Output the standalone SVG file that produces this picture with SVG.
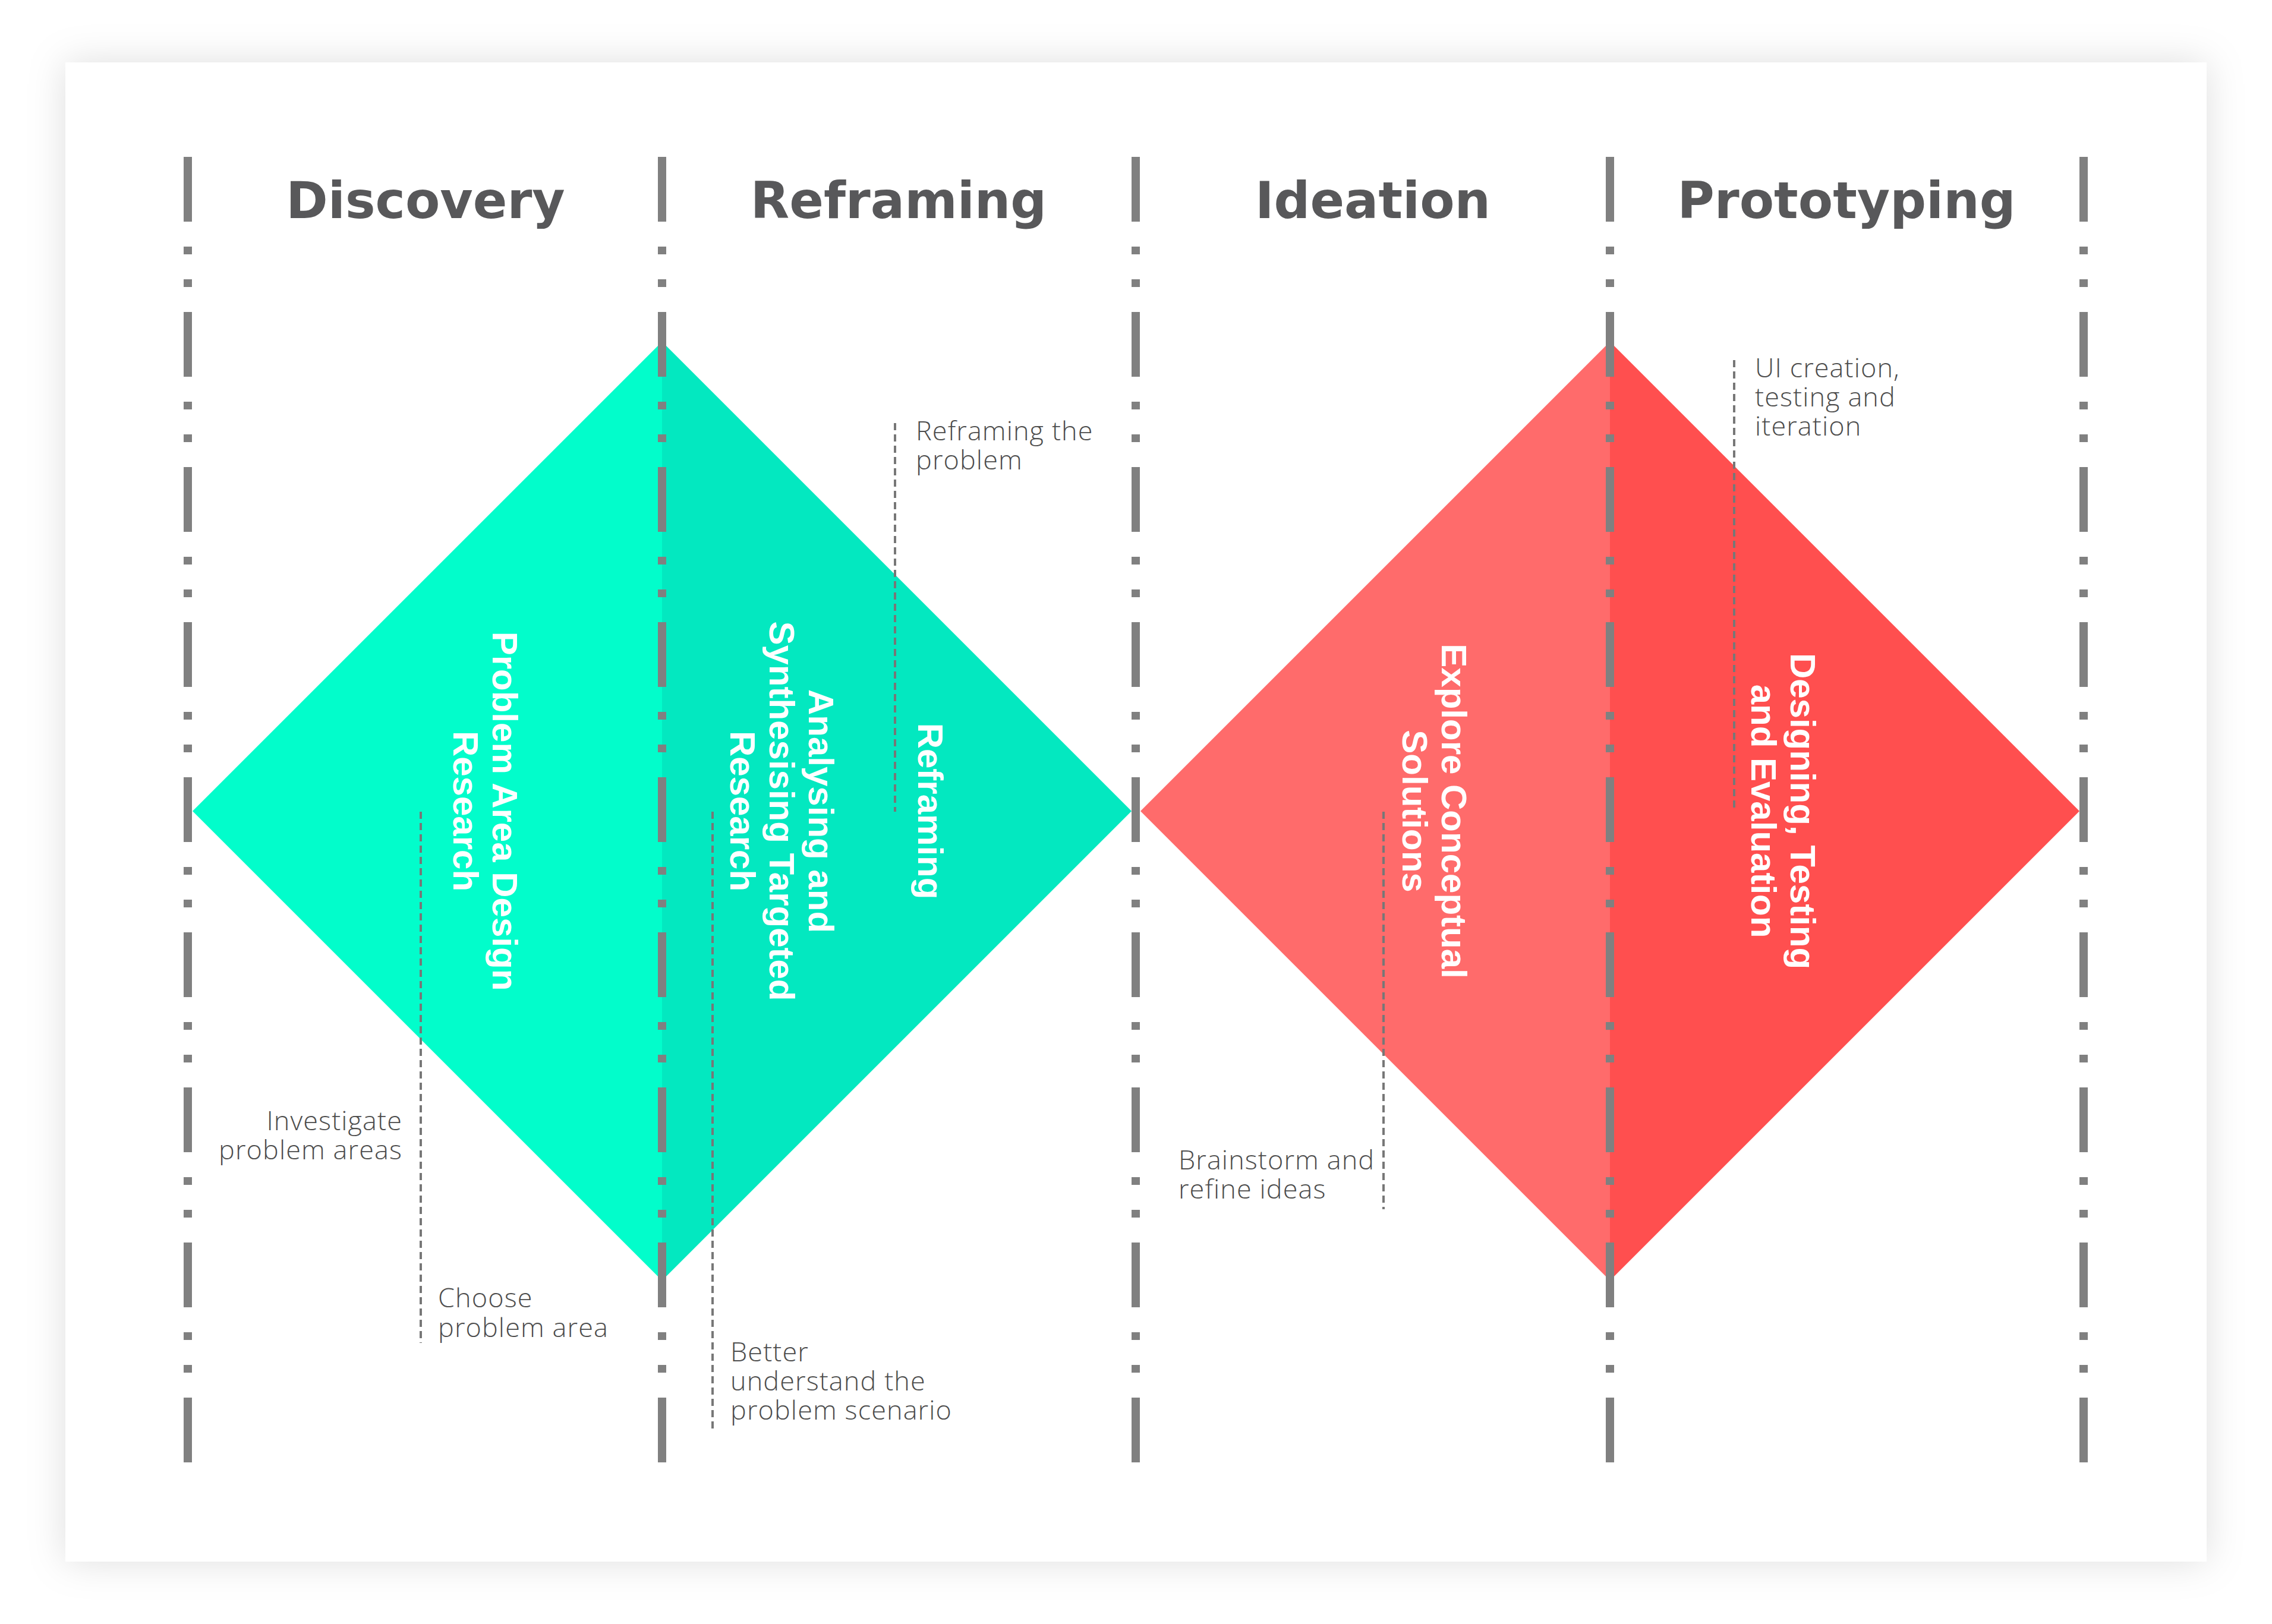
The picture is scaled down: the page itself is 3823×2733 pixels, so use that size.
<svg xmlns="http://www.w3.org/2000/svg" width="3823" height="2733" viewBox="0 0 3823 2733">
<defs>
<filter id="shadow" x="-10%" y="-10%" width="120%" height="120%">
<feDropShadow dx="0" dy="0" stdDeviation="32" flood-color="#000" flood-opacity="0.13"/>
</filter>
<style>
.title{font-family:"DejaVu Sans","Liberation Sans",sans-serif;font-weight:bold;font-size:85px;fill:#58585a;text-anchor:middle}
.lbl{font-family:"Liberation Sans",Arial,sans-serif;font-weight:bold;font-size:60px;fill:#ffffff;text-anchor:middle}
.note{font-family:"Open Sans","Liberation Sans",sans-serif;font-weight:300;font-size:45px;letter-spacing:1.1px;fill:#4d4d4d}
.sep{stroke:#808080;stroke-width:14;stroke-dasharray:109 42 13 42 13 42;fill:none}
.lead{stroke:#777777;stroke-width:4;stroke-dasharray:12 7;fill:none}
</style>
</defs>
<rect width="3823" height="2733" fill="#ffffff"/>
<rect id="card" x="110" y="105" width="3603" height="2523" fill="#ffffff" filter="url(#shadow)"/>

<g id="diamond-discover">
<polygon points="324,1365 1114,575 1114,2155" fill="#02fdcb"/>
<polygon points="1114,575 1904,1365 1114,2155" fill="#03e8c0"/>
</g>
<g id="diamond-develop">
<polygon points="1919,1365 2709,575 2709,2155" fill="#ff6b6b"/>
<polygon points="2709,575 3499,1365 2709,2155" fill="#ff4f4f"/>
</g>

<g id="separators">
<line class="sep" x1="316" y1="264" x2="316" y2="2462"/>
<line class="sep" x1="1114" y1="264" x2="1114" y2="2462"/>
<line class="sep" x1="1911" y1="264" x2="1911" y2="2462"/>
<line class="sep" x1="2709" y1="264" x2="2709" y2="2462"/>
<line class="sep" x1="3506" y1="264" x2="3506" y2="2462"/>
</g>

<g id="titles">
<text id="t-discovery" class="title" x="716" y="367">Discovery</text>
<text id="t-reframing" class="title" x="1512" y="367">Reframing</text>
<text id="t-ideation" class="title" x="2310" y="367">Ideation</text>
<text id="t-prototyping" class="title" x="3107" y="367">Prototyping</text>
</g>

<g id="connectors">
<line class="lead" x1="708" y1="1366" x2="708" y2="2260"/>
<line class="lead" x1="1199" y1="1366" x2="1199" y2="2407"/>
<line class="lead" x1="1506" y1="712" x2="1506" y2="1366"/>
<line class="lead" x1="2328" y1="1366" x2="2328" y2="2035"/>
<line class="lead" x1="2918" y1="606" x2="2918" y2="1366"/>
</g>

<g id="label-problem-area">
<text class="lbl" transform="translate(829,1365) rotate(90)"><tspan x="0" y="0">Problem Area Design</tspan><tspan x="0" y="66">Research</tspan></text>
</g>
<g id="label-analysing">
<text class="lbl" transform="translate(1361,1365) rotate(90)"><tspan x="0" y="0">Analysing and</tspan><tspan x="0" y="66">Synthesising Targeted</tspan><tspan x="0" y="132">Research</tspan></text>
</g>
<g id="label-reframing">
<text class="lbl" transform="translate(1545,1365) rotate(90)">Reframing</text>
</g>
<g id="label-explore">
<text class="lbl" transform="translate(2426,1365) rotate(90)"><tspan x="0" y="0">Explore Conceptual</tspan><tspan x="0" y="66">Solutions</tspan></text>
</g>
<g id="label-designing">
<text class="lbl" transform="translate(3013,1365) rotate(90)"><tspan x="0" y="0">Designing, Testing</tspan><tspan x="0" y="66">and Evaluation</tspan></text>
</g>

<g id="note-investigate">
<text class="note" text-anchor="end"><tspan x="677" y="1902">Investigate</tspan><tspan x="677" y="1951">problem areas</tspan></text>
</g>
<g id="note-choose">
<text class="note"><tspan x="737" y="2200">Choose</tspan><tspan x="737" y="2250">problem area</tspan></text>
</g>
<g id="note-better">
<text class="note"><tspan x="1229" y="2291">Better</tspan><tspan x="1229" y="2340">understand the</tspan><tspan x="1229" y="2389">problem scenario</tspan></text>
</g>
<g id="note-reframing">
<text class="note"><tspan x="1541" y="741">Reframing the</tspan><tspan x="1541" y="790">problem</tspan></text>
</g>
<g id="note-brainstorm">
<text class="note"><tspan x="1983" y="1968">Brainstorm and</tspan><tspan x="1983" y="2017">refine ideas</tspan></text>
</g>
<g id="note-ui">
<text class="note"><tspan x="2953" y="635">UI creation,</tspan><tspan x="2953" y="684">testing and</tspan><tspan x="2953" y="733">iteration</tspan></text>
</g>
</svg>
